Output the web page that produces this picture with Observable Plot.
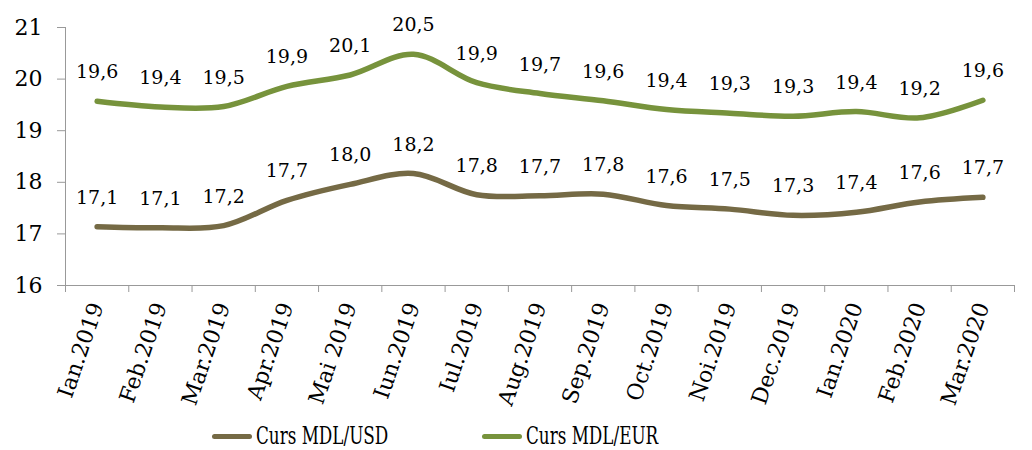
<!DOCTYPE html>
<html><head><meta charset="utf-8">
<script src="https://cdn.jsdelivr.net/npm/d3@7"></script>
<script src="https://cdn.jsdelivr.net/npm/@observablehq/plot@0.6"></script>
<style>
body{margin:0;background:#fff;font-family:"DejaVu Serif",serif;}
#legend{display:flex;margin-left:212px;margin-top:8px;font-size:24px;line-height:26px;color:#000;font-family:"DejaVu Serif",serif;}
.item{display:flex;align-items:center;}
.sw{display:inline-block;width:40px;height:5px;border-radius:3px;margin-right:4px;}
.tx{display:inline-block;transform:scaleX(0.7);transform-origin:left center;white-space:nowrap;}
</style></head><body>
<div id="chart"></div>
<div id="legend"></div>
<script>
const months = ["Ian.2019","Feb.2019","Mar.2019","Apr.2019","Mai 2019","Iun.2019","Iul.2019","Aug.2019","Sep.2019","Oct.2019","Noi.2019","Dec.2019","Ian.2020","Feb.2020","Mar.2020"];
const usd = [17.14,17.12,17.16,17.65,17.96,18.17,17.76,17.74,17.77,17.55,17.48,17.36,17.42,17.62,17.71];
const eur = [19.57,19.46,19.47,19.86,20.08,20.48,19.93,19.72,19.58,19.41,19.34,19.28,19.37,19.25,19.59];
const usdLabels = ["17,1","17,1","17,2","17,7","18,0","18,2","17,8","17,7","17,8","17,6","17,5","17,3","17,4","17,6","17,7"];
const eurLabels = ["19,6","19,4","19,5","19,9","20,1","20,5","19,9","19,7","19,6","19,4","19,3","19,3","19,4","19,2","19,6"];
const yTicks = [16,17,18,19,20,21];
const seriesNames = ["Curs MDL/USD","Curs MDL/EUR"];
const colors = ["#756a45","#77933c"];

const rows = [];
months.forEach((m,i)=>{
  rows.push({i, v: usd[i], label: usdLabels[i], s: seriesNames[0]});
  rows.push({i, v: eur[i], label: eurLabels[i], s: seriesNames[1]});
});
const font = "DejaVu Serif";
const chart = Plot.plot({
  width: 1032, height: 415,
  marginLeft: 65, marginRight: 18, marginTop: 27, marginBottom: 130,
  style: {fontFamily: font, background: "#fff", color: "#000"},
  x: {domain: [-0.5, months.length - 0.5], axis: null},
  y: {domain: [16, 21], axis: null},
  color: {domain: seriesNames, range: colors},
  marks: [
    Plot.axisY({ticks: yTicks, label: null, tickSize: 8, tickPadding: 15, stroke: "#999", fontSize: 22, fill: "#000", tickFormat: d => String(d)}),
    Plot.axisX({ticks: d3.range(-0.5, months.length), label: null, tickSize: 7, stroke: "#999", tickFormat: () => ""}),
    Plot.axisX({ticks: d3.range(months.length), label: null, tickSize: 0, tickPadding: 18, tickRotate: -71, tickFormat: i => months[i], fontSize: 22, fill: "#000"}),
    Plot.ruleY([16], {stroke: "#999"}),
    Plot.ruleX([-0.5], {stroke: "#999"}),
    Plot.line(rows, {x: "i", y: "v", z: "s", stroke: "s", strokeWidth: 5.5, curve: "catmull-rom", strokeLinecap: "round"}),
    Plot.text(rows, {x: "i", y: "v", text: "label", dy: -29, fontSize: 19, fill: "#000"})
  ]
});
document.getElementById("chart").append(chart);
const lg = document.getElementById("legend");
seriesNames.forEach((n,k)=>{
  const d = document.createElement("div"); d.className="item";
  d.style.width = k===0 ? "270px" : "auto";
  d.innerHTML = `<span class="sw" style="background:${colors[k]}"></span><span class="tx">${n}</span>`;
  lg.append(d);
});
</script></body></html>
